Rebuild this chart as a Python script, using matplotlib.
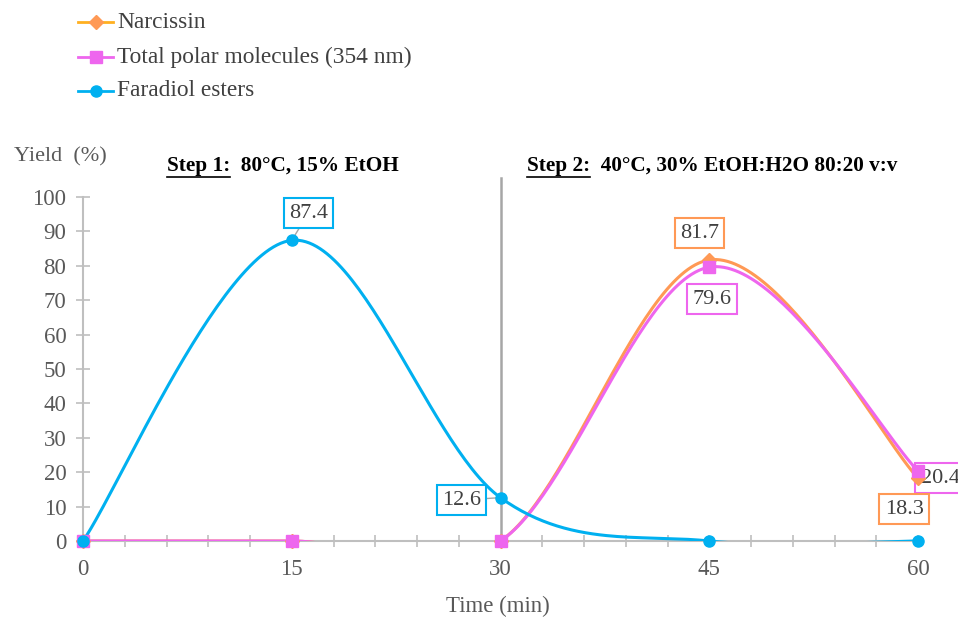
import matplotlib
matplotlib.use('Agg')
import matplotlib.pyplot as plt
import numpy as np
from matplotlib.lines import Line2D

time = [0, 15, 30, 45, 60]
narcissin = [0, 0, 0, 81.7, 18.3]
polar = [0, 0, 0, 79.6, 20.4]
faradiol = [0, 87.4, 12.6, 0, 0]
series_names = ['Narcissin', 'Total polar molecules (354 nm)', 'Faradiol esters']

orange = '#FF9955'
orange_leg = '#FFB020'
pink = '#EE66EE'
blue = '#00B0F0'
grey = '#BFBFBF'
txt = '#404040'

plt.rcParams['font.family'] = ['Liberation Serif', 'DejaVu Serif']


def smooth(x, y, n=60):
    # excel-like smoothed line (catmull-rom bezier)
    p = np.column_stack([x, y]).astype(float)
    p = np.vstack([p[0], p, p[-1]])
    out = []
    t = np.linspace(0, 1, n)[:, None]
    for i in range(1, len(p) - 2):
        p0, p1, p2, p3 = p[i - 1], p[i], p[i + 1], p[i + 2]
        b1 = p1 + (p2 - p0) / 6
        b2 = p2 - (p3 - p1) / 6
        seg = (1 - t) ** 3 * p1 + 3 * (1 - t) ** 2 * t * b1 + 3 * (1 - t) * t ** 2 * b2 + t ** 3 * p2
        out.append(seg)
    out = np.vstack(out)
    return out[:, 0], out[:, 1]


fig = plt.figure(figsize=(9.58, 6.17), dpi=100)
ax = fig.add_axes([83 / 958, 1 - 541 / 617, (918 - 83) / 958, (541 - 197) / 617])

styles = [(narcissin, orange, 'D', 7), (polar, pink, 's', 8), (faradiol, blue, 'o', 8)]
for vals, c, m, ms in styles:
    sx, sy = smooth(time, vals)
    ax.plot(sx, sy, color=c, lw=2.2, zorder=3)
for vals, c, m, ms in styles:
    ax.plot(time, vals, ls='none', marker=m, ms=ms, color=c, clip_on=False, zorder=6)

ax.set_xlim(0, 60)
ax.set_ylim(0, 100)
for s in ['top', 'right']:
    ax.spines[s].set_visible(False)
for s in ['left', 'bottom']:
    ax.spines[s].set_color(grey)
    ax.spines[s].set_linewidth(1.5)
ax.set_xticks([0, 15, 30, 45, 60])
ax.set_xticks(np.arange(0, 61, 3), minor=True)
ax.set_yticks(np.arange(0, 101, 10))
ax.tick_params(axis='both', which='both', direction='inout', color=grey, width=1.2,
               labelsize=16.5, labelcolor='#595959')
ax.tick_params(axis='y', length=10, pad=7)
ax.tick_params(axis='x', which='both', length=8, pad=9)

# step divider
ax.axvline(30, ymin=0, ymax=(541 - 178) / (541 - 197), color='#A6A6A6', lw=1.8,
           clip_on=False, zorder=2)

# data labels (value, x, label x, label y, colour, leader line)
labels = [
    (faradiol[1], time[1], 16.2, 95.3, blue, True),
    (faradiol[2], time[2], 27.2, 11.9, blue, True),
    (narcissin[3], time[3], 44.3, 89.5, orange, False),
    (polar[3], time[3], 45.2, 70.3, pink, False),
    (polar[4], time[4], 61.6, 18.3, pink, False),
    (narcissin[4], time[4], 59.0, 9.3, orange, False),
]
for v, xv, lx, ly, c, lead in labels:
    arrow = dict(arrowstyle='-', color='#A6A6A6', lw=1, shrinkA=0, shrinkB=0) if lead else None
    ax.annotate(f'{v:.1f}', xy=(xv, v), xytext=(lx, ly), textcoords='data',
                ha='center', va='center', fontsize=16, color=txt, annotation_clip=False,
                bbox=dict(boxstyle='square,pad=0.24', fc='white', ec=c, lw=1.5),
                arrowprops=arrow, zorder=5)

# axis titles
fig.text(14 / 958, 1 - 157 / 617, 'Yield  (%)', fontsize=16, color='#595959', va='center')
fig.text(498 / 958, 1 - 606 / 617, 'Time (min)', fontsize=16.5, color='#595959',
         va='center', ha='center')

# step headers
heads = []
for x0, step, rest in [(167, 'Step 1:', '  80°C, 15% EtOH'),
                       (527, 'Step 2:', '  40°C, 30% EtOH:H2O 80:20 v:v')]:
    t1 = fig.text(x0 / 958, 1 - 166 / 617, step, fontsize=15.3, fontweight='bold', va='center')
    heads.append((t1, rest))

fig.canvas.draw()
r = fig.canvas.get_renderer()
for t1, rest in heads:
    bb = t1.get_window_extent(r)
    fig.text(bb.x1 / 958, 1 - 166 / 617, rest, fontsize=15.3, fontweight='bold', va='center')
    fig.add_artist(Line2D([bb.x0 / 958, bb.x1 / 958], [(bb.y0 - 1) / 617] * 2,
                          color='black', lw=1.2))

# legend
leg_y = [22, 57, 91]
leg_line = [orange_leg, pink, blue]
for (vals, c, m, ms), lc, y, name in zip(styles, leg_line, leg_y, series_names):
    yy = 1 - y / 617
    fig.add_artist(Line2D([78 / 958, 113 / 958], [yy, yy], color=lc, lw=2))
    fig.add_artist(Line2D([95.5 / 958], [yy], marker=m, ms=ms, color=c, ls='none'))
    fig.text(117 / 958, yy, name, fontsize=16.8, color=txt, va='center')

fig.savefig('out.png', dpi=100)
